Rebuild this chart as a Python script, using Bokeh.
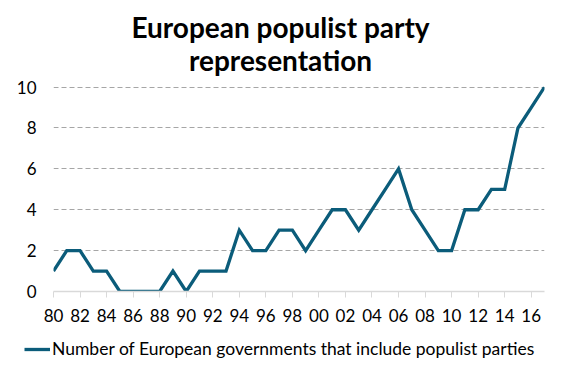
from bokeh.plotting import figure
from bokeh.layouts import column
from bokeh.models import FixedTicker, Legend, LegendItem, Range1d, Label
from bokeh.embed import file_html
from bokeh.resources import INLINE

years = list(range(1980, 2018))
governments = [1, 2, 2, 1, 1, 0, 0, 0, 0, 1, 0, 1, 1, 1, 3, 2, 2, 3, 3, 2,
               3, 4, 4, 3, 4, 5, 6, 4, 3, 2, 2, 4, 4, 5, 5, 8, 9, 10]
tick_years = list(range(1980, 2018, 2))
tick_labels = ["80", "82", "84", "86", "88", "90", "92", "94", "96", "98",
               "00", "02", "04", "06", "08", "10", "12", "14", "16"]
y_ticks = [0, 2, 4, 6, 8, 10]
title_lines = ["European populist party", "representation"]
series_name = "Number of European governments that include populist parties"

LINE_COLOR = "#0b5c7a"
font = "Lato"
W = 552
FW = 491

# ---- title strip (pixel-scaled ranges, frame aligned with the chart) ----
p0 = figure(frame_width=FW, frame_height=76, output_backend="svg",
            toolbar_location=None, x_axis_type=None, y_axis_type=None,
            x_range=Range1d(0, FW), y_range=Range1d(0, 76),
            min_border_left=53, min_border_right=8, min_border_top=0,
            min_border_bottom=0)
p0.outline_line_color = None
p0.grid.grid_line_color = None
for txt, ypos in zip(title_lines, [50, 17]):
    p0.add_layout(Label(x=227, y=ypos, text=txt, text_align="center",
                        text_baseline="alphabetic", text_font=font,
                        text_font_style="bold", text_font_size="28px",
                        text_color="#000000"))

# ---- main chart ----
p = figure(frame_width=FW, frame_height=205, output_backend="svg", toolbar_location=None,
           x_range=Range1d(1980, 2017), y_range=Range1d(0, 10.03),
           min_border_left=53, min_border_right=8, min_border_top=10,
           min_border_bottom=45)
p.outline_line_color = None
p.background_fill_color = "white"
p.border_fill_color = "white"

r = p.line(years, governments, line_color=LINE_COLOR, line_width=3.3,
           line_join="miter")

p.xaxis.ticker = FixedTicker(ticks=tick_years)
p.xaxis.major_label_overrides = {y: l for y, l in zip(tick_years, tick_labels)}
p.xaxis.axis_line_color = "#d9d9d9"
p.xaxis.axis_line_width = 1.5
p.xaxis.major_tick_line_color = "#d9d9d9"
p.xaxis.major_tick_out = 6
p.xaxis.major_tick_in = 0
p.xaxis.minor_tick_line_color = None
p.xaxis.major_label_text_font = font
p.xaxis.major_label_text_font_size = "17px"
p.xaxis.major_label_text_color = "#000000"
p.xaxis.major_label_standoff = 11

p.yaxis.ticker = FixedTicker(ticks=y_ticks)
p.yaxis.axis_line_color = None
p.yaxis.major_tick_line_color = None
p.yaxis.minor_tick_line_color = None
p.yaxis.major_label_text_font = font
p.yaxis.major_label_text_font_size = "17px"
p.yaxis.major_label_text_color = "#000000"
p.yaxis.major_label_standoff = 11

p.xgrid.grid_line_color = None
p.ygrid.ticker = FixedTicker(ticks=[2, 4, 6, 8, 10])
p.ygrid.grid_line_color = "#a6a6a6"
p.ygrid.grid_line_dash = "5 3"
p.ygrid.grid_line_width = 1.2

# ---- legend strip ----
p2 = figure(frame_width=W, frame_height=28, output_backend="svg",
            toolbar_location=None, x_axis_type=None, y_axis_type=None,
            x_range=Range1d(0, 1), y_range=Range1d(0, 1), min_border=0)
p2.outline_line_color = None
p2.grid.grid_line_color = None
# same series, outside this strip's visible range: only its legend swatch shows
r2 = p2.line(years, governments, line_color=LINE_COLOR, line_width=3.3)
legend = Legend(items=[LegendItem(label=series_name, renderers=[r2])],
                orientation="horizontal", location=(24, 5),
                label_text_font=font, label_text_font_size="17.5px",
                label_text_color="#000000", glyph_width=26, glyph_height=16,
                label_standoff=2, border_line_color=None,
                background_fill_alpha=0, margin=0, padding=0)
p2.add_layout(legend, "center")

open("out.html", "w").write(file_html(column(p0, p, p2, spacing=0), INLINE))
